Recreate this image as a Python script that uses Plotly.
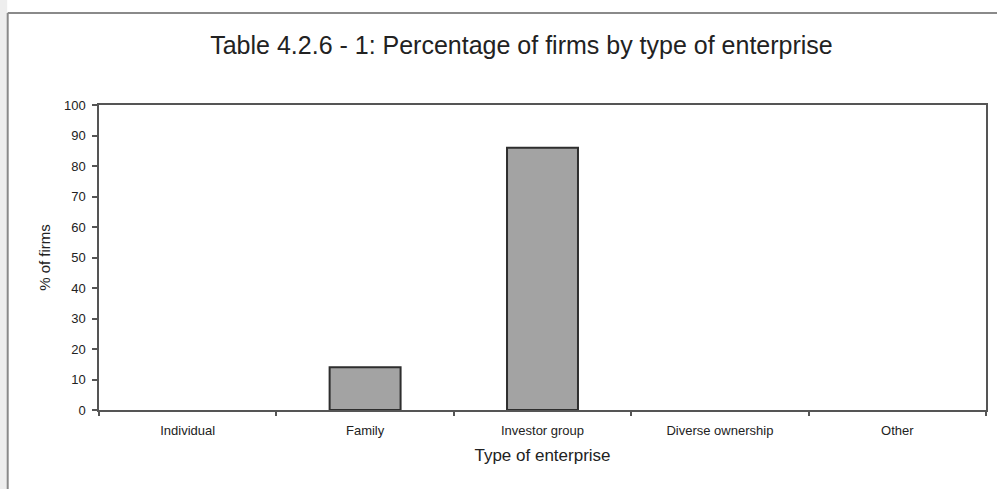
import plotly.graph_objects as go

# Share of firms (%) by type of enterprise
categories = ["Individual", "Family", "Investor group", "Diverse ownership", "Other"]
pct_firms = [0, 14, 86, 0, 0]
y_ticks = [0, 10, 20, 30, 40, 50, 60, 70, 80, 90, 100]

W, H = 997, 489
L, R, T, B = 99, 9, 105, 79
pw, ph = W - L - R, H - T - B

def px_x(x):
    return (x - L) / pw

def px_y(y):
    return (H - B - y) / ph

font_family = "Liberation Sans, Arial, sans-serif"
text_color = "#222222"

# empty categories get no outline so nothing is drawn at zero
outline_widths = [2 if v > 0 else 0 for v in pct_firms]

fig = go.Figure()
fig.add_trace(go.Bar(
    x=categories,
    y=pct_firms,
    width=0.4,
    marker=dict(color="#a3a3a3", line=dict(color="#2e2e2e", width=outline_widths)),
    hoverinfo="x+y",
))

# outer frame of the chart sheet
fig.add_shape(type="rect", xref="paper", yref="paper",
              x0=px_x(-5), x1=px_x(7), y0=px_y(H + 5), y1=px_y(-5),
              fillcolor="#eeeeee", line=dict(width=0), layer="below")
fig.add_shape(type="line", xref="paper", yref="paper",
              x0=px_x(7.5), x1=px_x(7.5), y0=px_y(13), y1=px_y(H + 5),
              line=dict(color="#8a8a8a", width=2))
fig.add_shape(type="line", xref="paper", yref="paper",
              x0=px_x(7.5), x1=px_x(W + 5), y0=px_y(13), y1=px_y(13),
              line=dict(color="#8a8a8a", width=2))

fig.update_layout(
    width=W, height=H,
    margin=dict(l=L, r=R, t=T, b=B),
    paper_bgcolor="white",
    plot_bgcolor="white",
    showlegend=False,
    font=dict(family=font_family, color=text_color),
    title=dict(
        text="Table 4.2.6 - 1: Percentage of firms by type of enterprise",
        x=(213 + 830) / 2 / W, xref="container", xanchor="center",
        y=1 - 45 / H, yanchor="middle",
        font=dict(size=25, color=text_color, family=font_family),
    ),
    bargap=0.6,
)

fig.update_xaxes(
    type="category",
    showline=True, linecolor="#555555", linewidth=1.5, mirror=True,
    ticks="outside", ticklen=4, tickcolor="#555555", tickwidth=1.5,
    tickson="boundaries",
    ticklabelstandoff=8,
    tickfont=dict(size=13, color=text_color),
    showgrid=False,
    title=dict(text="Type of enterprise", font=dict(size=17, color=text_color), standoff=12),
)
fig.update_yaxes(
    range=[0, 100],
    tickvals=y_ticks,
    showline=True, linecolor="#555555", linewidth=1.5, mirror=True,
    ticks="outside", ticklen=5, tickcolor="#555555", tickwidth=1.5,
    ticklabelstandoff=4,
    tickfont=dict(size=13, color=text_color),
    showgrid=False, zeroline=False,
    title=dict(text="% of firms", font=dict(size=15, color=text_color), standoff=10),
)

fig.write_html("out.html")
